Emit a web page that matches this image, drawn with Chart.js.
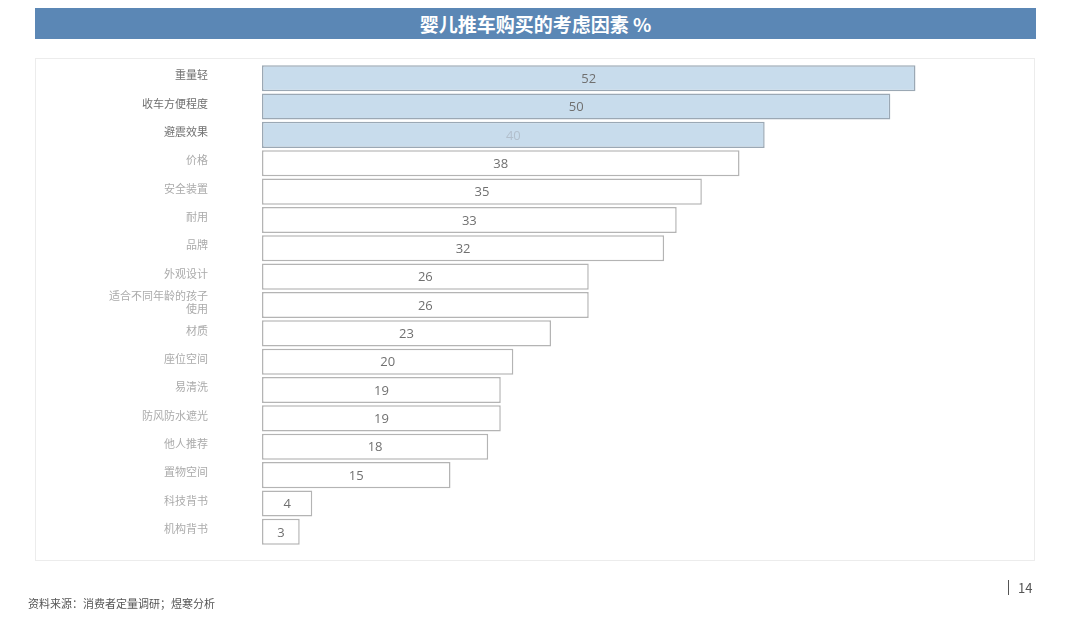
<!DOCTYPE html>
<html>
<head>
<meta charset="utf-8">
<script src="https://cdn.jsdelivr.net/npm/chart.js@4.4.0/dist/chart.umd.min.js"></script>
<style>
html,body{margin:0;padding:0;background:#fff;width:1080px;height:620px;overflow:hidden;font-family:"Noto Sans CJK SC","Noto Sans",sans-serif;}
#titlebar{position:absolute;left:35px;top:8px;width:1001px;height:31px;background:#5b87b5;color:#fff;font-weight:bold;font-size:19px;line-height:31px;text-align:center;}
#panel{position:absolute;left:35px;top:58px;width:1000px;height:503px;border:1px solid #ececec;box-sizing:border-box;}
#wrap{position:absolute;left:0;top:0;width:1080px;height:620px;}
#foot{position:absolute;left:28px;top:595px;font-size:11px;color:#555;}
#page{position:absolute;left:1008px;top:580px;font-size:13px;color:#555;border-left:1px solid #555;padding-left:9px;line-height:15px;}
</style>
</head>
<body>
<div id="titlebar">婴儿推车购买的考虑因素 %</div>
<div id="panel"></div>
<div id="wrap"><canvas id="c" width="1080" height="620"></canvas></div>
<div id="foot">资料来源：消费者定量调研；煜寒分析</div>
<div id="page">14</div>
<script>
const categories = ["重量轻","收车方便程度","避震效果","价格","安全装置","耐用","品牌","外观设计",["适合不同年龄的孩子","使用"],"材质","座位空间","易清洗","防风防水遮光","他人推荐","置物空间","科技背书","机构背书"];
const values = [52,50,40,38,35,33,32,26,26,23,20,19,19,18,15,4,3];
const highlightCount = 3;

const fills = values.map((v,i)=> i<highlightCount ? "#c8dcec" : "#ffffff");
const borders = values.map((v,i)=> i<highlightCount ? "#9ba8b4" : "#b4b4b4");
const labelColors = values.map((v,i)=> i<highlightCount ? "#707070" : "#ababab");
const valueColors = values.map((v,i)=> i===2 ? "#b2bfcc" : "#707070");

const valuePlugin = {
  id:'vals',
  afterDatasetsDraw(chart){
    const ctx = chart.ctx;
    const meta = chart.getDatasetMeta(0);
    ctx.save();
    ctx.font = '13px "Open Sans","Noto Sans",sans-serif';
    ctx.textAlign='center';
    ctx.textBaseline='middle';
    meta.data.forEach((bar,i)=>{
      ctx.fillStyle = valueColors[i];
      ctx.fillText(String(values[i]), (bar.x+bar.base)/2, bar.y+1);
    });
    ctx.restore();
  }
};

new Chart(document.getElementById('c'),{
  type:'bar',
  data:{labels:categories,datasets:[{data:values,backgroundColor:fills,borderColor:borders,borderWidth:1.5,borderSkipped:false,barPercentage:0.92,categoryPercentage:1.0}]},
  options:{
    indexAxis:'y',
    responsive:false,
    animation:false,
    devicePixelRatio:1,
    layout:{padding:{top:64,bottom:74,left:0,right:64}},
    plugins:{legend:{display:false},tooltip:{enabled:false}},
    scales:{
      x:{display:false,min:0,max:60},
      y:{
        grid:{display:false,drawTicks:false},
        border:{display:false},
        afterFit(s){s.width=262;},
        ticks:{autoSkip:false,padding:54,labelOffset:-3,color:(c)=>labelColors[c.index],font:{size:11,family:'"Noto Sans CJK SC",sans-serif'},crossAlign:'near'}
      }
    }
  },
  plugins:[valuePlugin]
});
</script>
</body>
</html>
